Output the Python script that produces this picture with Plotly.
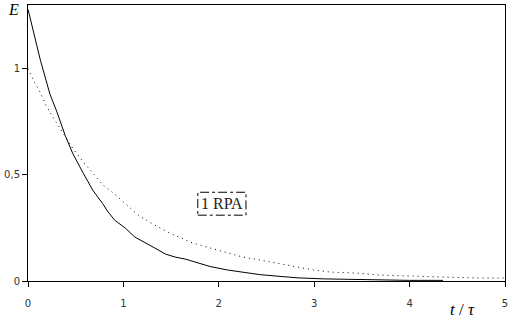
import plotly.graph_objects as go

# Solid curve
t_solid = [0, 0.13, 0.23, 0.30, 0.39, 0.47, 0.58, 0.68, 0.78, 0.84, 0.91, 1.02, 1.12, 1.23,
           1.33, 1.44, 1.54, 1.65, 1.75, 1.91, 2.09, 2.25, 2.43, 2.61, 2.82, 3.10, 3.50,
           3.70, 4.00, 4.35]
e_solid = [1.28, 1.04, 0.88, 0.80, 0.685, 0.60, 0.507, 0.427, 0.366, 0.325, 0.286, 0.249, 0.207,
           0.178, 0.155, 0.127, 0.113, 0.103, 0.089, 0.068, 0.052, 0.040, 0.030, 0.023, 0.015,
           0.010, 0.007, 0.004, 0.003, 0.003]

# Dotted curve
t_dot = [0, 0.07, 0.13, 0.18, 0.25, 0.30, 0.36, 0.47, 0.58, 0.70, 0.79, 0.88, 1.02, 1.17,
         1.33, 1.49, 1.73, 1.91, 2.09, 2.25, 2.43, 2.61, 2.88, 2.99, 3.17, 3.45, 3.69, 3.97,
         4.32, 4.74, 5.0]
e_dot = [1.0, 0.934, 0.887, 0.835, 0.78, 0.746, 0.70, 0.624, 0.56, 0.50, 0.45, 0.42, 0.366, 0.305,
         0.263, 0.225, 0.178, 0.155, 0.131, 0.113, 0.099, 0.084, 0.061, 0.052, 0.042, 0.037, 0.028,
         0.023, 0.019, 0.014, 0.014]

x_ticks = [0, 1, 2, 3, 4, 5]
y_ticks = [0, 0.5, 1]
y_ticklabels = ["0", "0,5", "1"]

label_text = "1 RPA"
label_box = dict(x0=1.78, x1=2.285, y0=0.31, y1=0.418)

W, H = 510, 318
ML, MR, MT, MB = 28, 5, 5, 37
PW, PH = W - ML - MR, H - MT - MB


def px_x(px):
    return (px - ML) / PW


def px_y(py):
    return (H - MB - py) / PH


fig = go.Figure()
fig.add_trace(go.Scatter(x=t_solid, y=e_solid, mode="lines",
                         line=dict(color="black", width=1), showlegend=False))
fig.add_trace(go.Scatter(x=t_dot, y=e_dot, mode="lines",
                         line=dict(color="black", width=1, dash="1px,4px"), showlegend=False))

fig.add_shape(type="rect", xref="x", yref="y", **label_box,
              line=dict(color="black", width=1, dash="dashdot"), fillcolor="rgba(0,0,0,0)")
fig.add_annotation(x=(label_box["x0"] + label_box["x1"]) / 2,
                   y=(label_box["y0"] + label_box["y1"]) / 2,
                   xref="x", yref="y", text=label_text, showarrow=False,
                   font=dict(family="Liberation Serif", size=16, color="#222"))

fig.add_annotation(x=px_x(13), y=px_y(10), xref="paper", yref="paper", text="<i>E</i>",
                   showarrow=False, xanchor="center", yanchor="middle",
                   font=dict(family="Liberation Serif", size=16, color="black"))
fig.add_annotation(x=px_x(462), y=px_y(309), xref="paper", yref="paper",
                   text="<i>t</i> / <i>τ</i>", showarrow=False,
                   xanchor="center", yanchor="middle",
                   font=dict(family="Liberation Serif", size=17, color="black"))

fig.update_layout(
    width=W, height=H,
    margin=dict(l=ML, r=MR, t=MT, b=MB, autoexpand=False),
    paper_bgcolor="white", plot_bgcolor="white",
    xaxis=dict(range=[0, 5], tickvals=x_ticks, ticks="outside", ticklen=5,
               tickcolor="black", showline=True, linecolor="black", linewidth=1,
               mirror=True, showgrid=False, zeroline=False, automargin=False,
               tickfont=dict(family="DejaVu Sans", size=10, color="#333"),
               ticklabelstandoff=8),
    yaxis=dict(range=[0, 1.3], tickvals=y_ticks, ticktext=y_ticklabels, ticks="outside",
               ticklen=5, tickcolor="black", showline=True, linecolor="black", linewidth=1,
               mirror=True, showgrid=False, zeroline=False, automargin=False,
               tickfont=dict(family="DejaVu Sans", size=10, color="#333")),
)

fig.write_html("out.html")
